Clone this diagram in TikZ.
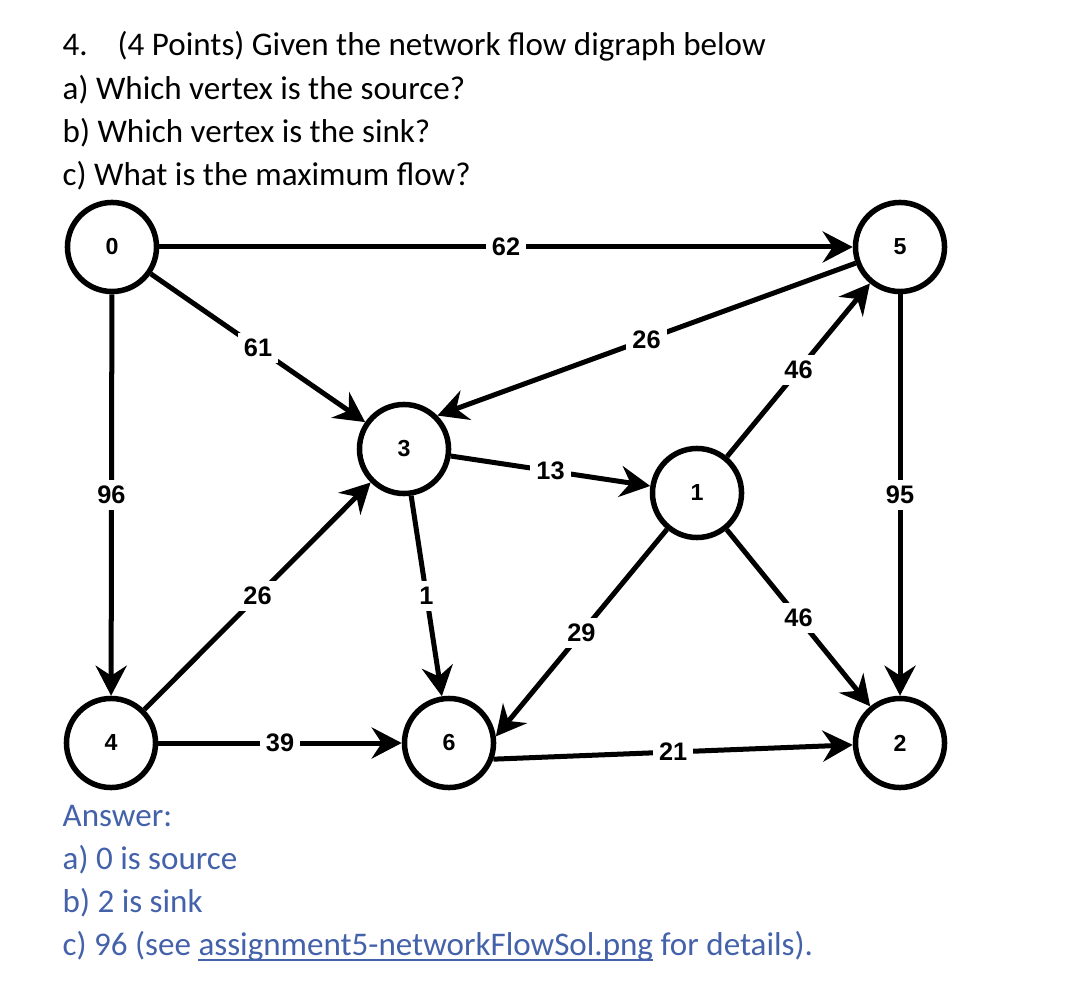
\documentclass[tikz,border=0pt]{standalone}
\usepackage{fontspec}
\setmainfont{Carlito}
\newfontfamily\graphfont{Liberation Sans}
\usetikzlibrary{arrows.meta}
\definecolor{answerblue}{RGB}{68,98,170}
\newcommand\linkname[1]{\underline{\smash{#1}}}

\begin{document}
\begin{tikzpicture}[
        x=0.01cm, y=-0.01cm,
        % vertices of the flow network
        vertex/.style={draw, circle, line width=0.055cm, minimum size=0.89cm, inner sep=0pt, font=\graphfont\bfseries\fontsize{6.6}{7}\selectfont},
        % edges and their capacities
        flow/.style={line width=0.05cm, -{Stealth[length=0.3cm, width=0.31cm, inset=0.1cm]}},
        weight/.style={fill=white, inner sep=0.06cm, font=\graphfont\bfseries\fontsize{7.2}{8}\selectfont},
        % question and answer text
        textline/.style={anchor=base west, inner sep=0pt, font=\fontsize{9.4}{11}\selectfont},
        answer/.style={textline, text=answerblue},
    ]
    \useasboundingbox (0,0) rectangle (1080,998);

    \node [textline] (q1) at (62,56) {4.\hspace*{8.5pt}(4 Points) Given the network flow digraph below};
    \node [textline] (q2) at (62,100) {a) Which vertex is the source?};
    \node [textline] (q3) at (62,143) {b) Which vertex is the sink?};
    \node [textline] (q4) at (62,186) {c) What is the maximum flow?};

    \node [vertex] (v0) at (112,247) {0};
    \node [vertex] (v5) at (900,247) {5};
    \node [vertex] (v3) at (404,449) {3};
    \node [vertex] (v1) at (697,493) {1};
    \node [vertex] (v4) at (111,743) {4};
    \node [vertex] (v6) at (449,743) {6};
    \node [vertex] (v2) at (900,743) {2};

    \draw [flow] (v0) -- node [weight] {62} (v5);
    \draw [flow] (v0) -- node [weight] {61} (v3);
    \draw [flow] (v5) -- node [weight] {26} (v3.45);
    \draw [flow] (v1) -- node [weight] {46} (v5);
    \draw [flow] (v3) -- node [weight] {13} (v1);
    \draw [flow] (v0) -- node [weight] {96} (v4);
    \draw [flow] (v5) -- node [weight] {95} (v2);
    \draw [flow] (v4) -- node [weight] {26} (v3);
    \draw [flow] (v3) -- node [weight] {1} (v6);
    \draw [flow] (v1) -- node [weight] {29} (v6.8);
    \draw [flow] (v1) -- node [weight] {46} (v2);
    \draw [flow] (v4) -- node [weight] {39} (v6);
    \draw [flow] (v6.-20) -- node [weight] {21} (v2);

    \node [answer] (a0) at (62,826) {Answer:};
    \node [answer] (a1) at (62,869) {a) 0 is source};
    \node [answer] (a2) at (62,912) {b) 2 is sink};
    \node [answer] (a3) at (62,955) {c) 96 (see \linkname{assignment5-networkFlowSol.png} for details).};
\end{tikzpicture}
\end{document}
